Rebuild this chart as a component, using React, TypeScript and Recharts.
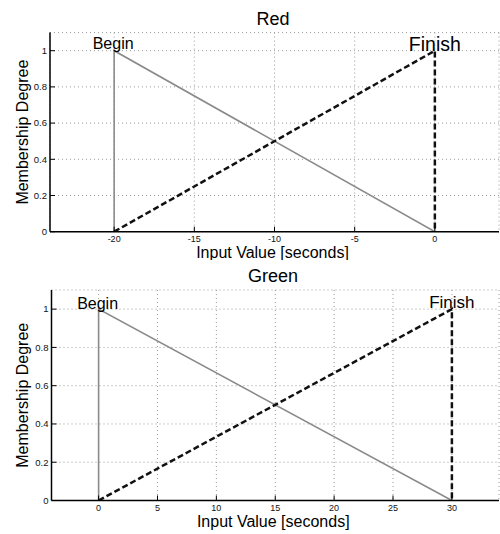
import React from 'react';
import { LineChart, Line, XAxis, YAxis, CartesianGrid, Label } from 'recharts';

const FONT = '"Liberation Sans", Arial, Helvetica, sans-serif';

const yTicks = [0, 0.2, 0.4, 0.6, 0.8, 1];
const yDomain = [0, 1.1];

const redTicks = [-20, -15, -10, -5, 0];
const redDomain = [-24, 4];
const greenTicks = [0, 5, 10, 15, 20, 25, 30];
const greenDomain = [-4, 34];

// membership functions (x in seconds, y = degree)
const redBeginX = [-20, -20, 0];
const redFinishX = [-20, 0, 0];
const greenBeginX = [0, 0, 30];
const greenFinishX = [0, 30, 30];
const beginY = [0, 1, 0];
const finishY = [0, 1, 0];

const toPoints = (xs: number[], ys: number[]) => xs.map((x, i) => ({ x, y: ys[i] }));

const YTick = (props: any) => {
  const { x, y, payload } = props;
  return (
    <g>
      <line x1={x} x2={x + 5} y1={y} y2={y} stroke="#000" strokeWidth={1} />
      <text x={x - 3} y={y} dy="0.35em" textAnchor="end" fontSize={9.5} fill="#111">
        {payload.value}
      </text>
    </g>
  );
};

const XTick = (props: any) => {
  const { x, y, payload } = props;
  return (
    <g>
      <line x1={x} x2={x} y1={y} y2={y - 5} stroke="#000" strokeWidth={1} />
      <text x={x} y={y + 10} textAnchor="middle" fontSize={9} fill="#111">
        {payload.value}
      </text>
    </g>
  );
};

const pointLabel = (text: string, size: number, dx: number, dy: number) => (p: any) =>
  p.index === 1 ? (
    <text x={p.x + dx} y={p.y + dy} textAnchor="middle" fontSize={size} fill="#000">
      {text}
    </text>
  ) : (
    <g />
  );

interface PanelProps {
  title: string;
  titleTop: number;
  top: number;
  height: number;
  marginTop: number;
  yAxisWidth: number;
  xAxisHeight: number;
  xLabelOffset: number;
  ticks: number[];
  domain: number[];
  beginX: number[];
  finishX: number[];
  beginSize: number;
  finishSize: number;
  beginDy: number;
  finishDy: number;
}

const Panel: React.FC<PanelProps> = (p) => (
  <>
    <div
      style={{
        position: 'absolute',
        left: 0,
        top: p.titleTop,
        width: 546,
        textAlign: 'center',
        fontSize: 18,
        lineHeight: '18px',
        fontFamily: FONT,
        color: '#000',
      }}
    >
      {p.title}
    </div>
    <div style={{ position: 'absolute', left: 0, top: p.top }}>
      <LineChart
        width={500}
        height={p.height}
        margin={{ top: p.marginTop, right: 1, bottom: 0, left: 0 }}
        style={{ fontFamily: FONT }}
      >
        <CartesianGrid stroke="#9a9a9a" strokeDasharray="1 3" />
        <XAxis
          type="number"
          dataKey="x"
          domain={p.domain}
          ticks={p.ticks}
          allowDataOverflow
          height={p.xAxisHeight}
          tickLine={false}
          tickSize={0}
          tickMargin={0}
          tick={<XTick />}
          axisLine={{ stroke: '#000', strokeWidth: 1.5 }}
        >
          <Label
            value="Input Value [seconds]"
            position="insideBottom"
            offset={p.xLabelOffset}
            dx={-2}
            fontSize={16}
            fill="#000"
          />
        </XAxis>
        <YAxis
          type="number"
          dataKey="y"
          domain={yDomain}
          ticks={yTicks}
          allowDataOverflow
          width={p.yAxisWidth}
          tickLine={false}
          tickSize={0}
          tickMargin={0}
          tick={<YTick />}
          axisLine={{ stroke: '#000', strokeWidth: 1.5 }}
        >
          <Label
            value="Membership Degree"
            angle={-90}
            position="insideLeft"
            offset={22}
            fontSize={16}
            fill="#000"
            style={{ textAnchor: 'middle' }}
          />
        </YAxis>
        <Line
          data={toPoints(p.beginX, beginY)}
          dataKey="y"
          type="linear"
          stroke="#8a8a8a"
          strokeWidth={1.6}
          dot={false}
          isAnimationActive={false}
          label={pointLabel('Begin', p.beginSize, -1, p.beginDy)}
        />
        <Line
          data={toPoints(p.finishX, finishY)}
          dataKey="y"
          type="linear"
          stroke="#111"
          strokeWidth={2.5}
          strokeDasharray="6 3"
          dot={false}
          isAnimationActive={false}
          label={pointLabel('Finish', p.finishSize, 0, p.finishDy)}
        />
      </LineChart>
    </div>
  </>
);

export default function App() {
  return (
    <div
      style={{
        position: 'absolute',
        left: 0,
        top: 0,
        width: 500,
        height: 534,
        background: '#fff',
        overflow: 'hidden',
      }}
    >
      <Panel
        title="Red"
        titleTop={10}
        top={0}
        height={260}
        marginTop={32.6}
        yAxisWidth={50}
        xAxisHeight={28.3}
        xLabelOffset={2}
        ticks={redTicks}
        domain={redDomain}
        beginX={redBeginX}
        finishX={redFinishX}
        beginSize={16}
        finishSize={19.5}
        beginDy={-1.5}
        finishDy={0.5}
      />
      <Panel
        title="Green"
        titleTop={267}
        top={260}
        height={274}
        marginTop={30}
        yAxisWidth={51.5}
        xAxisHeight={33.5}
        xLabelOffset={7.5}
        ticks={greenTicks}
        domain={greenDomain}
        beginX={greenBeginX}
        finishX={greenFinishX}
        beginSize={16}
        finishSize={17}
        beginDy={0}
        finishDy={-1}
      />
    </div>
  );
}
